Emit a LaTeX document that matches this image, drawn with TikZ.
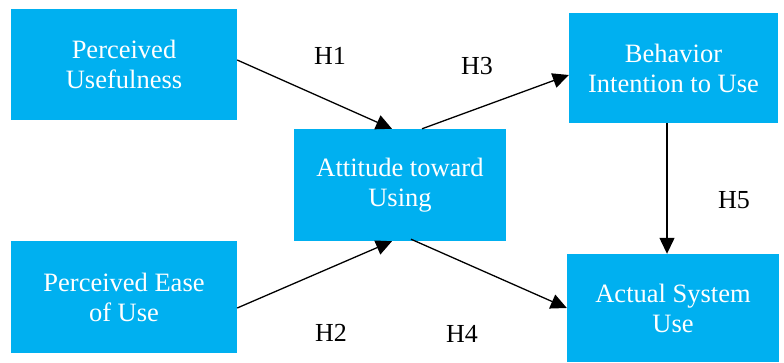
\documentclass[tikz,border=0pt]{standalone}
\usepackage{fontspec}
\setmainfont{Liberation Serif}
\usetikzlibrary{arrows.meta}
\definecolor{boxblue}{HTML}{00B0F0}
\begin{document}
\begin{tikzpicture}[x=1pt,y=-1pt,
  box/.style={fill=boxblue, text=white, draw=none, inner sep=0pt, align=center,
    font=\fontsize{26.5}{30}\selectfont},
  hlabel/.style={font=\fontsize{26}{30}\selectfont, inner sep=0pt},
  link/.style={line width=1.3pt, -{Triangle[length=16pt,width=15pt]}}]
\useasboundingbox (0,0) rectangle (784,363);
\node[box, minimum width=226pt, minimum height=111pt] (pu) at (124,64.5) {Perceived\\Usefulness};
\node[box, minimum width=226pt, minimum height=112pt] (peu) at (124,297) {Perceived Ease\\of Use};
\node[box, minimum width=212pt, minimum height=112pt] (atu) at (400,185) {Attitude toward\\Using};
\node[box, minimum width=209pt, minimum height=110pt] (bi) at (673.5,68) {Behavior\\Intention to Use};
\node[box, minimum width=212pt, minimum height=108pt] (asu) at (673,308) {Actual System\\Use};
\draw[link] ([yshift=4.5pt]pu.east) -- ([xshift=-8pt]atu.north);
\draw[link] ([yshift=-11pt]peu.east) -- ([xshift=-8pt]atu.south);
\draw[link] ([xshift=22pt]atu.north) -- ([yshift=-7pt]bi.west);
\draw[link] ([xshift=11pt,yshift=2pt]atu.south) -- (asu.west);
\draw[link] ([xshift=-6.5pt]bi.south) -- ([xshift=-6pt]asu.north);
\node[hlabel] (h1) at (330,56) {H1};
\node[hlabel] (h3) at (477,66) {H3};
\node[hlabel] (h2) at (331,333) {H2};
\node[hlabel] (h4) at (462,334) {H4};
\node[hlabel] (h5) at (734,200) {H5};
\end{tikzpicture}
\end{document}
